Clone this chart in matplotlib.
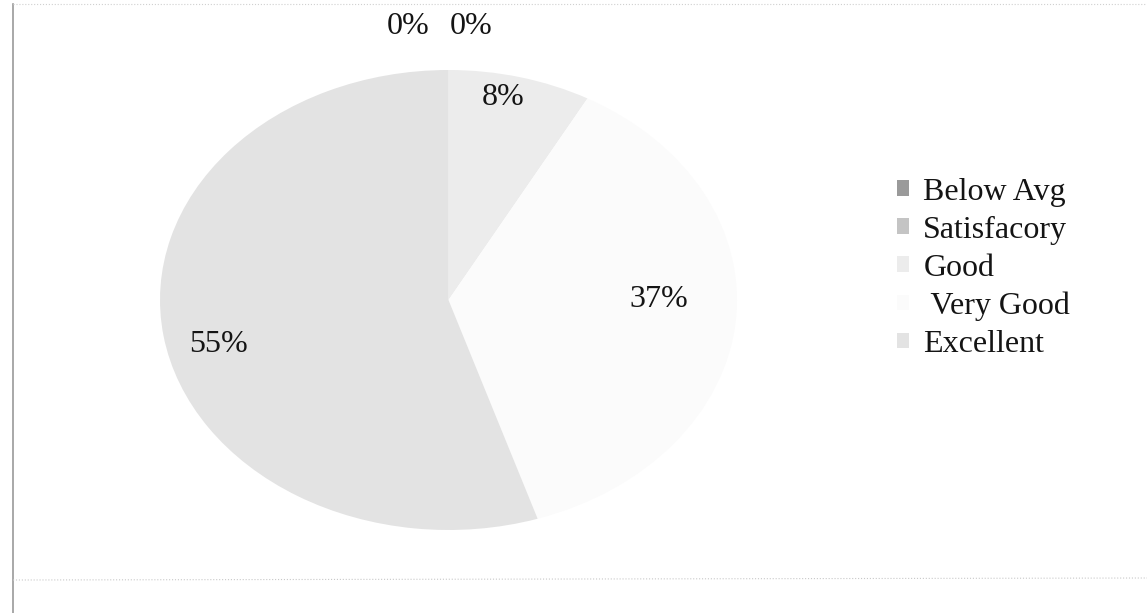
import matplotlib.pyplot as plt
from matplotlib.lines import Line2D
import numpy as np

categories = ['Below Avg', 'Satisfacory', 'Good', ' Very Good', 'Excellent']
shares = [0, 0, 8, 37, 55]
colors = ['#9a9a9a', '#c4c4c4', '#ececec', '#fbfbfb', '#e3e3e3']
# radial position / angle nudge of each percentage label
label_r = [1.19, 1.19, 0.90, 0.73, 0.82]
label_dt = [0, 0, 2.2, 5.4, 4.8]
zero_dx = [-0.14, 0.08]

plt.rcParams['font.family'] = ['Liberation Serif', 'DejaVu Serif']

fig = plt.figure(figsize=(11.47, 6.13), dpi=100)
ax = fig.add_axes([160 / 1147, 83 / 613, 577 / 1147, 460 / 613])

wedges, _ = ax.pie(shares, colors=colors, startangle=90, counterclock=False,
                   wedgeprops=dict(linewidth=0))
ax.set_aspect('auto')
ax.set_xlim(-1, 1)
ax.set_ylim(-1, 1)

zi = 0
for w, v, r, dt in zip(wedges, shares, label_r, label_dt):
    mid = np.deg2rad((w.theta1 + w.theta2) / 2 + dt)
    x, y = r * np.cos(mid), r * np.sin(mid)
    if v == 0:
        x = zero_dx[zi]
        zi += 1
    ax.text(x, y, f'{v}%', ha='center', va='center', fontsize=23,
            color='#141414', clip_on=False)

leg = ax.legend(wedges, categories, loc='center left',
                bbox_to_anchor=(708 / 577, 0.569), frameon=False,
                fontsize=23, handlelength=0.38, handleheight=0.38,
                handletextpad=0.45, labelspacing=0.28)
for h in leg.legend_handles:
    h.set_edgecolor('none')
for t in leg.get_texts():
    t.set_color('#141414')

# faint page border of the scanned figure
fig.add_artist(Line2D([13 / 1147, 13 / 1147], [0, 1 - 4 / 613],
                      color='#9a9a9a', lw=1.2))
fig.add_artist(Line2D([13 / 1147, 1], [1 - 4 / 613, 1 - 4 / 613],
                      color='#d0d0d0', lw=0.8, ls=':'))
fig.add_artist(Line2D([13 / 1147, 1], [1 - 580 / 613, 1 - 578 / 613],
                      color='#c8c8c8', lw=0.8, ls=':'))

fig.savefig('out.png', dpi=100, facecolor='white')
